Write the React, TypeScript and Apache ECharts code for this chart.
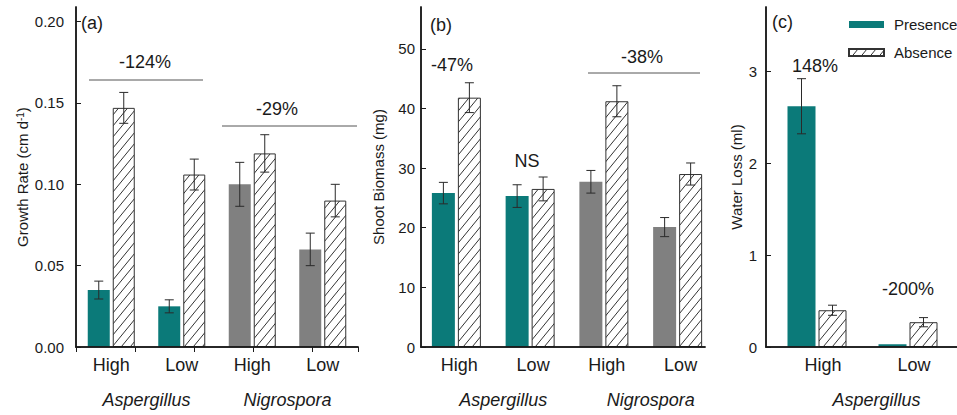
import { useEffect, useRef } from 'react';
import * as echarts from 'echarts';

// ---------- data ----------
const categories = ['High', 'Low', 'High', 'Low'];
const fungi = ['Aspergillus', 'Nigrospora'];
const categoryFungus = [0, 0, 1, 1];

const growthPresence = [0.035, 0.025, 0.1, 0.06];
const growthPresenceErr = [0.0055, 0.004, 0.0135, 0.01];
const growthAbsence = [0.147, 0.106, 0.119, 0.09];
const growthAbsenceErr = [0.0095, 0.0095, 0.0115, 0.01];

const biomassPresence = [25.8, 25.3, 27.7, 20.1];
const biomassPresenceErr = [1.8, 1.9, 1.9, 1.6];
const biomassAbsence = [41.8, 26.5, 41.2, 29.0];
const biomassAbsenceErr = [2.5, 2.0, 2.6, 1.85];

const waterCategories = ['High', 'Low'];
const waterFungi = ['Aspergillus'];
const waterFungus = [0, 0];
const waterPresence = [2.62, 0.03];
const waterPresenceErr = [0.3, 0];
const waterAbsence = [0.4, 0.27];
const waterAbsenceErr = [0.055, 0.05];

const legendNames = ['Presence', 'Absence'];

// ---------- styles ----------
const FONT = '"Liberation Sans", Arial, Helvetica, sans-serif';
const TEAL = '#0b7a79';
const GRAY = '#808080';
const INK = '#1a1a1a';
const FUNGUS_COLORS = [TEAL, GRAY];

function makeHatch() {
  const w = 9;
  const h = 11;
  const c = document.createElement('canvas');
  c.width = w;
  c.height = h;
  const ctx = c.getContext('2d')!;
  ctx.fillStyle = '#ffffff';
  ctx.fillRect(0, 0, w, h);
  ctx.strokeStyle = '#333333';
  ctx.lineWidth = 1;
  ctx.beginPath();
  for (let m = 0; m <= 2; m++) {
    ctx.moveTo((m - 1) * w, h);
    ctx.lineTo(m * w, 0);
  }
  ctx.stroke();
  return { image: c, repeat: 'repeat', imageWidth: w, imageHeight: h };
}

interface PanelSpec {
  frame: { left: number; top: number; width: number; height: number };
  data: { left: number; width: number };
  yMax: number;
  yInterval: number;
  decimals: number;
  yName: string;
  nameGap: number;
  labelMargin: number;
  cats: string[];
  groups: string[];
  fungus: number[];
  presence: number[];
  presenceErr: number[];
  absence: number[];
  absenceErr: number[];
  barWidth: number;
  gap: number;
  cap: number;
  topTickUnit?: number;
  catPad?: number;
  groupPad?: number;
}

function buildPanel(o: any, s: PanelSpec, hatch: any) {
  const axisLineStyle = { color: INK, width: 1.5 };
  // frame grid
  const gi = o.grid.length;
  o.grid.push({ left: s.frame.left, top: s.frame.top, width: s.frame.width, height: s.frame.height, show: false });
  o.xAxis.push({
    gridIndex: gi, type: 'value', position: 'bottom', min: 0, max: 1, z: 5,
    axisLine: { show: true, lineStyle: axisLineStyle }, axisTick: { show: false },
    axisLabel: { show: false }, splitLine: { show: false },
  });
  const topMax = s.topTickUnit ? s.frame.width / s.topTickUnit : 1;
  o.xAxis.push({
    gridIndex: gi, type: 'value', position: 'top', min: 0, max: topMax, interval: 1, z: 5,
    axisLine: { show: true, lineStyle: axisLineStyle },
    axisTick: { show: !!s.topTickUnit, inside: true, length: 5, lineStyle: { color: INK, width: 1 } },
    axisLabel: { show: false }, splitLine: { show: false },
  });
  o.yAxis.push({
    gridIndex: gi, type: 'value', position: 'left', min: 0, max: s.yMax, interval: s.yInterval, z: 5,
    axisLine: { show: true, lineStyle: axisLineStyle },
    axisTick: { show: true, inside: true, length: 5, lineStyle: { color: INK, width: 1 } },
    axisLabel: {
      show: true, showMaxLabel: false, margin: s.labelMargin, fontSize: 15, color: INK, fontFamily: FONT,
      formatter: (v: number) => v.toFixed(s.decimals),
    },
    splitLine: { show: false },
    name: s.yName, nameLocation: 'middle', nameGap: s.nameGap,
    nameTextStyle: {
      fontSize: 15, color: INK, fontFamily: FONT,
      rich: { sup: { fontSize: 10, color: INK, fontFamily: FONT, verticalAlign: 'top', padding: [0, 0, 5, 0] } },
    },
  });
  o.yAxis.push({
    gridIndex: gi, type: 'value', position: 'right', min: 0, max: 1, z: 5,
    axisLine: { show: true, lineStyle: axisLineStyle }, axisTick: { show: false },
    axisLabel: { show: false }, splitLine: { show: false },
  });

  // data grid
  const di = o.grid.length;
  o.grid.push({ left: s.data.left, top: s.frame.top, width: s.data.width, height: s.frame.height, show: false });
  const xCat = o.xAxis.length;
  o.xAxis.push({
    gridIndex: di, type: 'category', data: s.cats, position: 'bottom',
    axisLine: { show: false }, axisTick: { show: false },
    axisLabel: { fontSize: 18, color: INK, fontFamily: FONT, margin: 9, padding: [0, 0, 0, s.catPad || 0] },
  });
  o.xAxis.push({
    gridIndex: di, type: 'category', data: s.groups, position: 'bottom', offset: 35,
    axisLine: { show: false }, axisTick: { show: false },
    axisLabel: { fontSize: 18, fontStyle: 'italic', color: INK, fontFamily: FONT, margin: 9, padding: [0, 0, 0, s.groupPad || 0] },
  });
  const yData = o.yAxis.length;
  o.yAxis.push({ gridIndex: di, type: 'value', min: 0, max: s.yMax, show: false, splitLine: { show: false } });

  const barGap = `${(s.gap / s.barWidth) * 100}%`;
  const off = (s.barWidth + s.gap) / 2;
  o.series.push({
    type: 'bar', name: 'Presence', xAxisIndex: xCat, yAxisIndex: yData, barWidth: s.barWidth, barGap, z: 2,
    itemStyle: { color: TEAL },
    data: s.presence.map((v, i) => ({ value: v, itemStyle: { color: FUNGUS_COLORS[s.fungus[i]] } })),
  });
  o.series.push({
    type: 'bar', name: 'Absence', xAxisIndex: xCat, yAxisIndex: yData, barWidth: s.barWidth, barGap, z: 2,
    itemStyle: { color: hatch, borderColor: '#333333', borderWidth: 1 },
    data: s.absence.slice(),
  });
  const errSeries = (vals: number[], errs: number[], dx: number) => ({
    type: 'custom', xAxisIndex: xCat, yAxisIndex: yData, z: 4, silent: true,
    encode: { x: 0, y: 1 },
    data: vals.map((v, i) => [i, v, errs[i]]),
    renderItem: (_p: any, api: any) => {
      const i = api.value(0);
      const v = api.value(1);
      const e = api.value(2);
      if (!e) return null;
      const t = api.coord([i, v + e]);
      const b = api.coord([i, v - e]);
      const x = t[0] + dx;
      const st = { stroke: '#2a2a2a', lineWidth: 1 };
      return {
        type: 'group',
        children: [
          { type: 'line', shape: { x1: x, y1: t[1], x2: x, y2: b[1] }, style: st },
          { type: 'line', shape: { x1: x - s.cap, y1: t[1], x2: x + s.cap, y2: t[1] }, style: st },
          { type: 'line', shape: { x1: x - s.cap, y1: b[1], x2: x + s.cap, y2: b[1] }, style: st },
        ],
      };
    },
  });
  o.series.push(errSeries(s.presence, s.presenceErr, -off));
  o.series.push(errSeries(s.absence, s.absenceErr, off));
}

function txt(text: string, x: number, y: number, align = 'center', size = 18) {
  return {
    type: 'text', x, y, z: 10, silent: true,
    style: { text, fontSize: size, fontFamily: FONT, fill: INK, align, verticalAlign: 'middle', textAlign: align, textVerticalAlign: 'middle' },
  };
}
function hline(x1: number, x2: number, y: number) {
  return { type: 'line', z: 10, silent: true, shape: { x1, y1: y, x2, y2: y }, style: { stroke: '#555555', lineWidth: 1 } };
}

export default function App() {
  const ref = useRef<HTMLDivElement>(null);
  useEffect(() => {
    if (!ref.current) return;
    const chart = echarts.init(ref.current, undefined, { renderer: 'svg' });
    const hatch = makeHatch();
    const o: any = {
      animation: false,
      backgroundColor: '#ffffff',
      textStyle: { fontFamily: FONT },
      grid: [], xAxis: [], yAxis: [], series: [],
      legend: {
        data: legendNames, left: 848, top: 17, orient: 'vertical', itemWidth: 35, itemHeight: 7, itemGap: 13,
        icon: 'rect', padding: 0, selectedMode: false,
        textStyle: { fontSize: 15, color: INK, fontFamily: FONT, padding: [0, 0, 0, 5] },
      },
    };
    buildPanel(o, {
      frame: { left: 76, top: 7, width: 282, height: 340 }, data: { left: 76, width: 282 },
      yMax: 0.209, yInterval: 0.05, decimals: 2, yName: 'Growth Rate (cm d{sup|-1})', nameGap: 46, labelMargin: 12,
      cats: categories, groups: fungi, fungus: categoryFungus,
      presence: growthPresence, presenceErr: growthPresenceErr, absence: growthAbsence, absenceErr: growthAbsenceErr,
      barWidth: 22, gap: 3, cap: 4.5, topTickUnit: 59.1,
    }, hatch);
    buildPanel(o, {
      frame: { left: 421, top: 7, width: 284, height: 340 }, data: { left: 419.5, width: 295 },
      yMax: 57, yInterval: 10, decimals: 0, yName: 'Shoot Biomass (mg)', nameGap: 35, labelMargin: 6,
      cats: categories, groups: fungi, fungus: categoryFungus,
      presence: biomassPresence, presenceErr: biomassPresenceErr, absence: biomassAbsence, absenceErr: biomassAbsenceErr,
      barWidth: 23, gap: 3, cap: 4.5, catPad: 6, groupPad: 20,
    }, hatch);
    buildPanel(o, {
      frame: { left: 766, top: 7, width: 400, height: 340 }, data: { left: 771.5, width: 182 },
      yMax: 3.7, yInterval: 1, decimals: 0, yName: 'Water Loss (ml)', nameGap: 22, labelMargin: 9,
      cats: waterCategories, groups: waterFungi, fungus: waterFungus,
      presence: waterPresence, presenceErr: waterPresenceErr, absence: waterAbsence, absenceErr: waterAbsenceErr,
      barWidth: 28, gap: 3, cap: 4.5, catPad: 12, groupPad: 28,
    }, hatch);
    o.graphic = [
      txt('(a)', 81, 23, 'left'),
      txt('-124%', 145, 62),
      hline(89, 203, 80),
      txt('-29%', 277, 109),
      hline(222, 357, 126),
      txt('(b)', 430, 25, 'left'),
      txt('-47%', 452, 65),
      txt('NS', 527, 161),
      txt('-38%', 642, 57),
      hline(588, 700, 73),
      txt('(c)', 772, 22, 'left'),
      txt('148%', 815, 66),
      txt('-200%', 908, 289),
    ];
    chart.setOption(o);
    return () => chart.dispose();
  }, []);
  return <div ref={ref} style={{ position: 'absolute', left: 0, top: 0, width: 957, height: 415 }} />;
}
